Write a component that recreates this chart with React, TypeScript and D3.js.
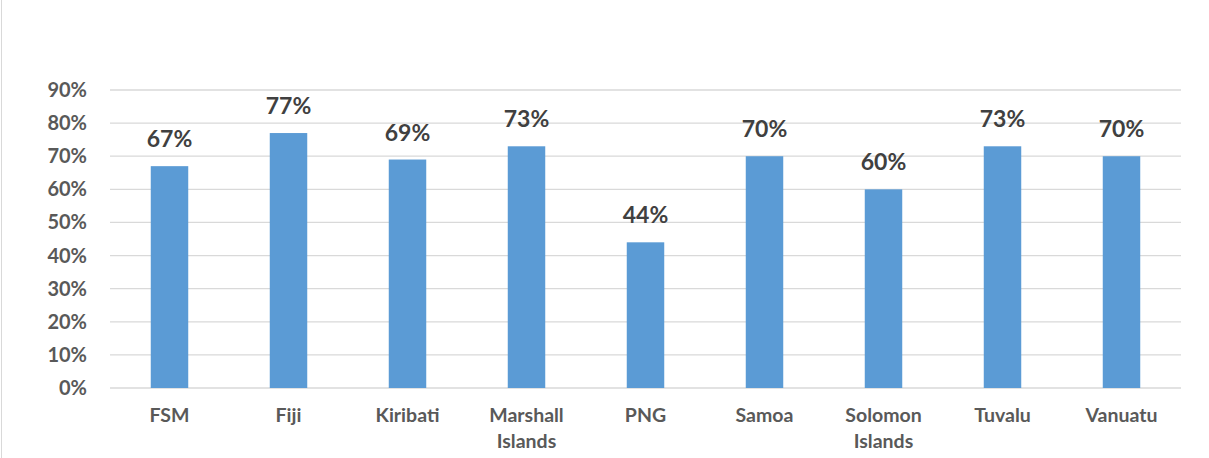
import React from "react";
import * as d3 from "d3";

const categories: string[][] = [
  ["FSM"], ["Fiji"], ["Kiribati"], ["Marshall", "Islands"], ["PNG"],
  ["Samoa"], ["Solomon", "Islands"], ["Tuvalu"], ["Vanuatu"],
];
const values: number[] = [67, 77, 69, 73, 44, 70, 60, 73, 70];
const yTicks: number[] = [0, 10, 20, 30, 40, 50, 60, 70, 80, 90];

const W = 1209;
const H = 458;
const FONT = "Lato, 'Open Sans', sans-serif";

export default function App() {
  const keys = categories.map((c) => c.join(" "));
  const x = d3.scaleBand<string>().domain(keys).range([110, 1181]).paddingInner(0.685).paddingOuter(0.3425);
  const y = d3.scaleLinear().domain([0, 90]).range([388, 90]);

  return (
    <svg width={W} height={H} style={{ display: "block", position: "absolute", left: 0, top: 0 }}>
      <rect x={0} y={0} width={W} height={H} fill="#fff" />
      <rect x={1.5} y={-2} width={W + 4} height={H + 4} fill="none" stroke="#d9d9d9" strokeWidth={1} />
      {yTicks.map((t) => (
        <g key={t}>
          <line x1={110} x2={1181} y1={y(t)} y2={y(t)} stroke="#d9d9d9" strokeWidth={1.3} />
          <text x={87} y={y(t) + 7} textAnchor="end" fontFamily={FONT} fontWeight={700} fontSize={20} fill="#595959">
            {t}%
          </text>
        </g>
      ))}
      {values.map((v, i) => {
        const k = keys[i];
        const bx = x(k)!;
        const bw = x.bandwidth();
        return (
          <g key={k}>
            <rect x={bx} y={y(v)} width={bw} height={y(0) - y(v)} fill="#5b9bd5" />
            <text x={bx + bw / 2} y={y(v) - 19} textAnchor="middle" fontFamily={FONT} fontWeight={700} fontSize={23} fill="#404040">
              {v}%
            </text>
            {categories[i].map((line, j) => (
              <text key={j} x={bx + bw / 2} y={422 + j * 26} textAnchor="middle" fontFamily={FONT} fontWeight={700} fontSize={19.5} fill="#595959">
                {line}
              </text>
            ))}
          </g>
        );
      })}
    </svg>
  );
}
